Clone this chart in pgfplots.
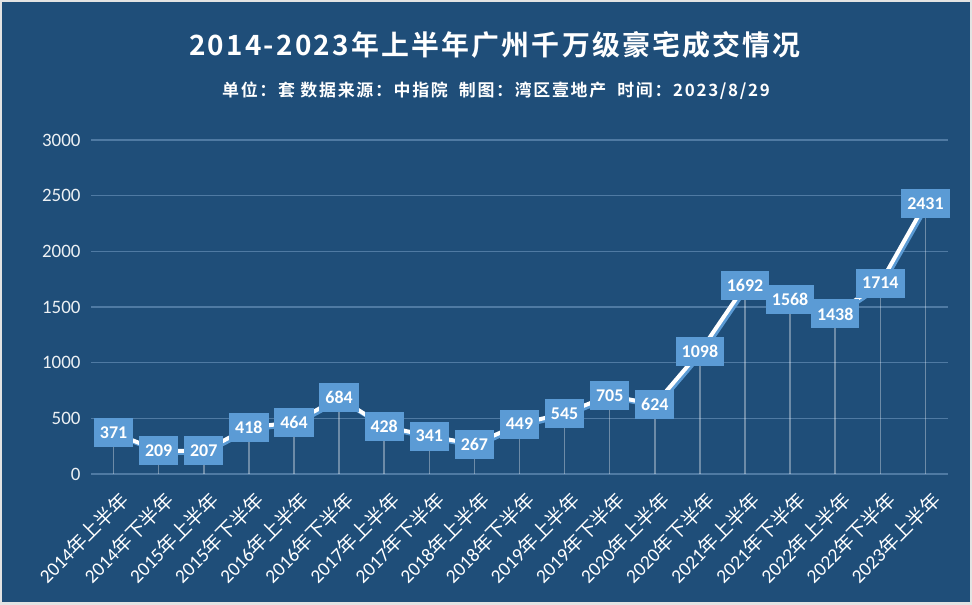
\documentclass[border=0pt]{standalone}
\usepackage{fontspec}
\setmainfont{Carlito}
\newfontfamily\cjk[BoldFont={Noto Sans CJK SC Bold}]{Noto Sans CJK SC}
\newfontfamily\cjktitle[LetterSpace=8]{Noto Sans CJK SC Bold}
\newfontfamily\cjksub[LetterSpace=10]{Noto Sans CJK SC Bold}
\usepackage{pgfplots}
\pgfplotsset{compat=1.18}
\definecolor{bg}{HTML}{1F4E79}
\definecolor{lbl}{HTML}{5B9BD5}
\definecolor{gridc}{HTML}{4F7AA3}
\pgfplotstableread{
x y
0 371
1 209
2 207
3 418
4 464
5 684
6 428
7 341
8 267
9 449
10 545
11 705
12 624
13 1098
14 1692
15 1568
16 1438
17 1714
18 2431
}\data
\newcommand{\lb}[2]{#1{\cjk 年#2半年}}
\begin{document}
\begin{tikzpicture}
\fill[gray!22] (-91bp,-131bp) rectangle (881bp,474bp);
\fill[bg] (-89bp,-128bp) rectangle (879bp,472bp);
\node[text=white, font=\cjktitle\fontsize{28}{28}\selectfont] at (404bp,429bp) {2014-2023年上半年广州千万级豪宅成交情况};
\node[text=white, font=\cjksub\fontsize{17}{17}\selectfont] at (405bp,383bp) {单位：套 数据来源：中指院\ \ 制图：湾区壹地产\ \ 时间：2023/8/29};
\begin{axis}[at={(0,0)}, anchor=south west, scale only axis,
  width=857bp, height=334bp,
  xmin=-0.5, xmax=18.5, ymin=0, ymax=3000,
  ytick={0,500,...,3000}, xtick={0,...,18},
  xticklabels={\lb{2014}{上},\lb{2014}{下},\lb{2015}{上},\lb{2015}{下},\lb{2016}{上},\lb{2016}{下},\lb{2017}{上},\lb{2017}{下},\lb{2018}{上},\lb{2018}{下},\lb{2019}{上},\lb{2019}{下},\lb{2020}{上},\lb{2020}{下},\lb{2021}{上},\lb{2021}{下},\lb{2022}{上},\lb{2022}{下},\lb{2023}{上}},
  axis line style={draw=none}, major tick length=0,
  ymajorgrids, grid style={gridc, line width=1.2bp},
  /pgf/number format/.cd, 1000 sep={}, assume math mode=true, /pgfplots/.cd,
  yticklabel style={text=white!92!bg, font=\fontsize{19}{19}\selectfont, xshift=-7bp},
  xticklabel style={text=white, rotate=45, anchor=north east, font=\fontsize{19.5}{19.5}\selectfont, inner sep=1bp, xshift=-6.6bp, yshift=-13.7bp},
  clip=false,
]
\addplot[ycomb, draw=white, opacity=0.35, line width=1.5bp, no marks] table {\data};
\addplot[lbl, line width=4bp, no marks, xshift=2bp, yshift=-2bp] table {\data};
\addplot[white, line width=4bp, no marks,
  nodes near coords,
  nodes near coords style={anchor=center, fill=lbl, text=white, font=\fontsize{18}{18}\selectfont\bfseries, inner xsep=6bp, inner ysep=0bp, minimum height=29bp}] table {\data};
\end{axis}
\end{tikzpicture}
\end{document}
